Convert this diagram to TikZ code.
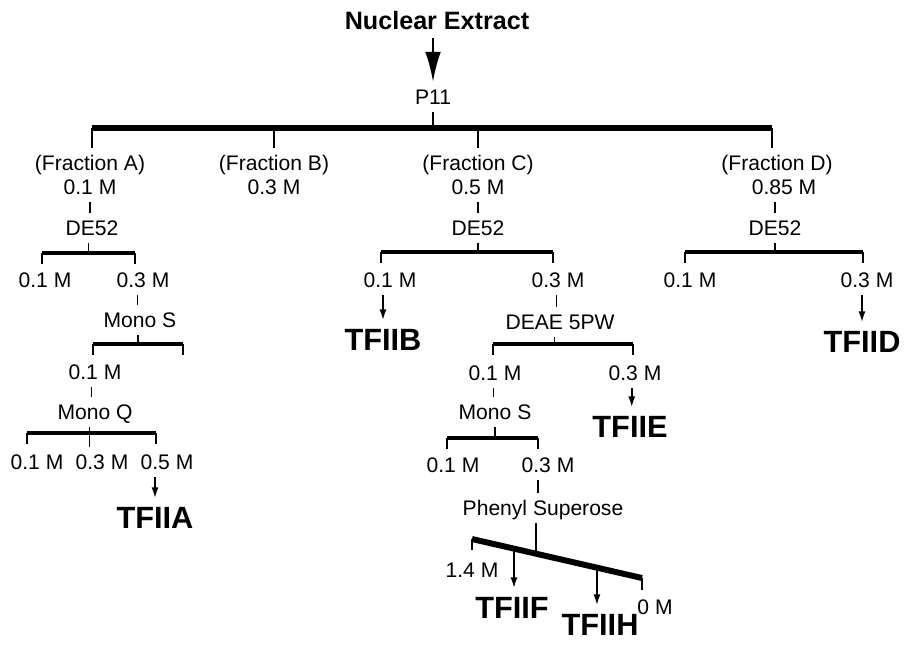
\documentclass[tikz,border=0pt]{standalone}
\usepackage{fontspec}
\setmainfont{Liberation Sans}
\usetikzlibrary{arrows.meta,calc}
\begin{document}
\begin{tikzpicture}[x=0.02cm,y=-0.02cm,
  lbl/.style={font=\fontsize{12}{14}\selectfont,text height=11.2pt,text depth=2.5pt,inner xsep=1pt,inner ysep=1.7pt},
  big/.style={font=\fontsize{17.5}{20}\selectfont\bfseries,text height=12.5pt,text depth=0pt,inner ysep=5pt},
  stem/.style={line width=0.85pt},
  barline/.style={line width=2.8pt},
  arr/.style={line width=0.85pt,-{Latex[length=6pt,width=4pt]}}]
    \newcommand{\splitbar}[4]{
        \coordinate (#1-l) at (#2,#4);
        \coordinate (#1-r) at (#3,#4);
        \draw[barline] (#1-l) -- (#1-r);
        \draw[stem] (#1-l) -- ++(0,11) (#1-r) -- ++(0,11);
    }
\useasboundingbox (0,0) rectangle (908,646);

\node[font=\fontsize{14.3}{17}\selectfont\bfseries,text height=10.3pt,text depth=0pt,inner ysep=5pt] (nucl) at (437,20) {Nuclear Extract};
\node[lbl] (p11) at (433,97) {P11};
\draw[line width=1.1pt,-{Latex[length=17pt,width=9pt]}] (nucl.south -| p11) -- (p11.north);

% main column split
\coordinate (barL) at (92,128);
\coordinate (barR) at (772,128);
\draw[line width=3.4pt] (barL) -- (barR);
\draw[stem] (p11.south) -- (p11.south |- barL);
\node[lbl] (fracA) at (90,163) {(Fraction A)};
\node[lbl] (mA) at (90,187) {0.1 M};
\node[lbl] (fracB) at (274,163) {(Fraction B)};
\node[lbl] (mB) at (274,187) {0.3 M};
\node[lbl] (fracC) at (478,163) {(Fraction C)};
\node[lbl] (mC) at (478,187) {0.5 M};
\node[lbl] (fracD) at (777,163) {(Fraction D)};
\node[lbl] (mD) at (784,187) {0.85 M};
\draw[stem] (barL) -- (barL |- fracA.north);
\draw[stem] (fracB.north |- barL) -- (fracB.north);
\draw[stem] (fracC.north |- barL) -- (fracC.north);
\draw[stem] (barR) -- (barR |- fracD.north);

% fraction A
\node[lbl] (deA) at (92,228) {DE52};
\draw[stem] (mA.south) -- (mA.south |- deA.north);
\splitbar{bA1}{42}{135}{253}
\draw[stem] ([xshift=-2pt]deA.south) -- ([xshift=-2pt]deA.south |- bA1-l);
\node[lbl] (mA11) at (45,280) {0.1 M};
\node[lbl] (mA13) at (143,280) {0.3 M};
\node[lbl] (monoSA) at (140,320) {Mono S};
\draw[stem] ([xshift=-3pt]mA13.south) -- ([xshift=-3pt]mA13.south |- monoSA.north);
\splitbar{bA2}{93}{183}{344}
\draw[stem] ([xshift=-1pt]monoSA.south) -- ([xshift=-1pt]monoSA.south |- bA2-l);
\node[lbl] (mA21) at (95,372) {0.1 M};
\node[lbl] (monoQ) at (95,412) {Mono Q};
\draw[stem] ([xshift=-2pt]mA21.south) -- ([xshift=-2pt]mA21.south |- monoQ.north);
\splitbar{bA3}{27}{156}{433}
\node[lbl] (mA31) at (37,462) {0.1 M};
\node[lbl] (mA33) at (102,462) {0.3 M};
\node[lbl] (mA35) at (167,462) {0.5 M};
\draw[stem] ([xshift=-3pt]monoQ.south) -- ([xshift=-3pt]monoQ.south |- mA33.north);
\node[big] (tfA) at (155,518) {TFIIA};
\draw[arr] (mA35.south -| tfA) -- (tfA.north);

% fraction C
\node[lbl] (deC) at (478,228) {DE52};
\draw[stem] (mC.south) -- (deC.north);
\splitbar{bC1}{381}{553}{252}
\draw[stem] (deC.south) -- (deC.south |- bC1-l);
\node[lbl] (mC11) at (390,280) {0.1 M};
\node[lbl] (mC13) at (558,280) {0.3 M};
\node[big] (tfB) at (383,340) {TFIIB};
\draw[arr] (mC11.south -| tfB) -- (tfB.north);
\node[lbl] (deae) at (560,322) {DEAE 5PW};
\draw[stem] ([xshift=-1pt]mC13.south) -- ([xshift=-1pt]mC13.south |- deae.north);
\splitbar{bC2}{493}{633}{344}
\draw[stem] ([xshift=-3pt]deae.south) -- ([xshift=-3pt]deae.south |- bC2-l);
\node[lbl] (mC21) at (495,373) {0.1 M};
\node[lbl] (mC23) at (635,373) {0.3 M};
\node[lbl] (monoSC) at (495,412) {Mono S};
\draw[stem] ([xshift=-1pt]mC21.south) -- ([xshift=-1pt]mC21.south |- monoSC.north);
\node[big] (tfE) at (630,427) {TFIIE};
\draw[arr] ([xshift=1pt]mC23.south -| tfE) -- ([xshift=1pt]tfE.north);
\splitbar{bC3}{447}{538}{438}
\draw[stem] (monoSC.south) -- (monoSC.south |- bC3-l);
\node[lbl] (mC31) at (453,465) {0.1 M};
\node[lbl] (mC33) at (548,465) {0.3 M};
\node[lbl] (phenyl) at (543,508) {Phenyl Superose};
\draw[stem] (mC33.south -| bC3-r) -- (bC3-r |- phenyl.north);

% phenyl gradient
\coordinate (phL) at (472,539);
\coordinate (phR) at (642,578);
\draw[line width=3.4pt] (phL) -- (phR);
\draw[stem] (phL) -- ++(0,11) (phR) -- ++(0,12);
\coordinate (phM) at ($(phL)!0.376!(phR)$);
\coordinate (phF) at ($(phL)!0.247!(phR)$);
\coordinate (phH) at ($(phL)!0.735!(phR)$);
\draw[stem] (phenyl.south -| phM) -- (phM);
\node[lbl] (m14) at (472,570) {1.4 M};
\node[lbl] (m0) at (655,607) {0 M};
\node[big] (tfF) at (512,608) {TFIIF};
\node[big] (tfH) at (600,625) {TFIIH};
\draw[arr] (phF) -- (phF |- tfF.north);
\draw[arr] (phH) -- (phH |- tfH.north);

% fraction D
\node[lbl] (deD) at (775,228) {DE52};
\draw[stem] (mD.south -| deD) -- (deD.north);
\splitbar{bD1}{685}{863}{252}
\draw[stem] (deD.south) -- (deD.south |- bD1-l);
\node[lbl] (mD1) at (690,280) {0.1 M};
\node[lbl] (mD3) at (867,280) {0.3 M};
\node[big] (tfD) at (862,342) {TFIID};
\draw[arr] (mD3.south -| tfD) -- (tfD.north);

\end{tikzpicture}
\end{document}
